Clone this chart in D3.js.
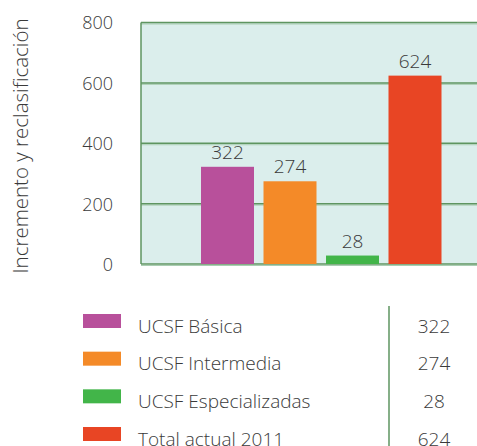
<!DOCTYPE html>
<html>
<head>
<meta charset="utf-8">
<script src="https://cdn.jsdelivr.net/npm/d3@7"></script>
<style>
  body { margin: 0; background: #fff; }
  text { font-family: "Open Sans", "Noto Sans", sans-serif; font-weight: 300; fill: #3a3a3a; }
</style>
</head>
<body>
<svg id="viz" width="477" height="446"></svg>
<script>
// data
var categories = ["UCSF Básica", "UCSF Intermedia", "UCSF Especializadas", "Total actual 2011"];
var values = [322, 274, 28, 624];
var yTicks = [0, 200, 400, 600, 800];
var barColors = ["#b8509b", "#f48a28", "#42b549", "#e84524"];

var svg = d3.select("#viz");
var plot = { left: 141, right: 480, top: 22.5, bottom: 264 };

var y = d3.scaleLinear().domain([0, 800]).range([plot.bottom, plot.top]);
var x = d3.scaleBand()
    .domain(categories)
    .range([196.25, 446.25])
    .paddingInner(0.152)
    .paddingOuter(0.076);
var color = d3.scaleOrdinal().domain(categories).range(barColors);

// background
svg.append("rect")
    .attr("x", plot.left).attr("y", plot.top)
    .attr("width", plot.right - plot.left).attr("height", plot.bottom - plot.top)
    .attr("fill", "#dbeeec");

// grid lines
var grid = svg.append("g").attr("class", "grid");
grid.selectAll("line.light")
    .data(yTicks)
    .enter().append("line")
    .attr("class", "light")
    .attr("x1", plot.left).attr("x2", plot.right)
    .attr("y1", function (d) { return y(d) + 1.5; })
    .attr("y2", function (d) { return y(d) + 1.5; })
    .attr("stroke", "#a9cdb2").attr("stroke-width", 1);
grid.selectAll("line.dark")
    .data(yTicks)
    .enter().append("line")
    .attr("class", "dark")
    .attr("x1", plot.left).attr("x2", plot.right)
    .attr("y1", function (d) { return y(d); })
    .attr("y2", function (d) { return y(d); })
    .attr("stroke", "#5e9560").attr("stroke-width", 1.5);

// left border
svg.append("line")
    .attr("x1", plot.left).attr("x2", plot.left)
    .attr("y1", plot.top).attr("y2", plot.bottom)
    .attr("stroke", "#5e9560").attr("stroke-width", 1.5);

// y axis labels
var yAxis = d3.axisLeft(y).tickValues(yTicks).tickSize(0).tickPadding(28);
var yg = svg.append("g").attr("transform", "translate(" + plot.left + ",0)").call(yAxis);
yg.select(".domain").remove();
yg.selectAll("text")
    .attr("font-size", 18)
    .attr("font-family", null)
    .attr("fill", "#3a3a3a")
    .attr("dy", "0.36em");

// y title
svg.append("text")
    .attr("transform", "translate(28,146) rotate(-90)")
    .attr("text-anchor", "middle")
    .attr("font-size", 20.5)
    .text("Incremento y reclasificación");

// bars
svg.append("g").selectAll("rect")
    .data(categories)
    .enter().append("rect")
    .attr("x", function (d) { return x(d); })
    .attr("width", x.bandwidth())
    .attr("y", function (d, i) { return y(values[i]); })
    .attr("height", function (d, i) { return plot.bottom - y(values[i]); })
    .attr("fill", function (d) { return color(d); });

// value labels
svg.append("g").selectAll("text")
    .data(categories)
    .enter().append("text")
    .attr("x", function (d) { return x(d) + x.bandwidth() / 2; })
    .attr("y", function (d, i) { return y(values[i]) - 8; })
    .attr("text-anchor", "middle")
    .attr("font-size", 19)
    .text(function (d, i) { return values[i]; });

// legend table
var legend = svg.append("g").attr("class", "legend");
var rowY = d3.scalePoint().domain(categories).range([321, 434]);

legend.selectAll("rect")
    .data(categories)
    .enter().append("rect")
    .attr("x", 83)
    .attr("y", function (d) { return rowY(d) - 7; })
    .attr("width", 38).attr("height", 14)
    .attr("fill", function (d) { return color(d); });

legend.selectAll("text.name")
    .data(categories)
    .enter().append("text")
    .attr("class", "name")
    .attr("x", 138)
    .attr("y", function (d) { return rowY(d) + 11.5; })
    .attr("font-size", 19)
    .text(function (d) { return d; });

legend.selectAll("text.val")
    .data(categories)
    .enter().append("text")
    .attr("class", "val")
    .attr("x", 434)
    .attr("y", function (d) { return rowY(d) + 11.5; })
    .attr("text-anchor", "middle")
    .attr("font-size", 19)
    .text(function (d, i) { return values[i]; });

legend.append("line")
    .attr("x1", 389).attr("x2", 389)
    .attr("y1", 306).attr("y2", 446)
    .attr("stroke", "#5e9560").attr("stroke-width", 1.5);
</script>
</body>
</html>
